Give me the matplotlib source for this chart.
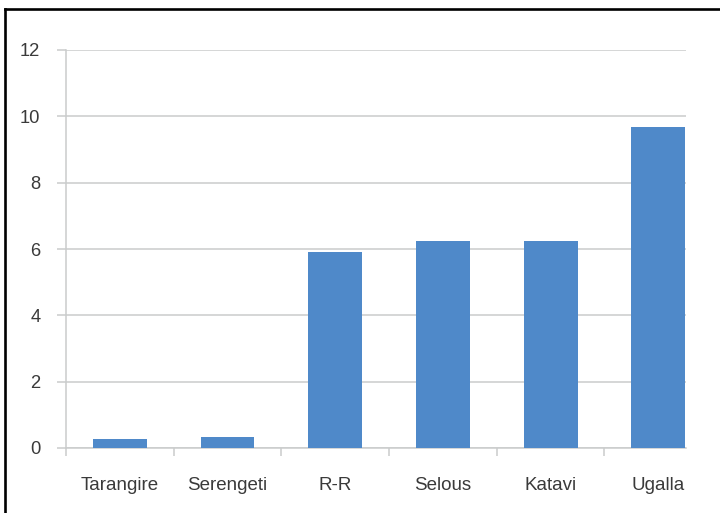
import matplotlib
matplotlib.use("Agg")
import matplotlib.pyplot as plt
from matplotlib.lines import Line2D

# Parks and their values
parks = ["Tarangire", "Serengeti", "R-R", "Selous", "Katavi", "Ugalla"]
values = [0.27, 0.33, 5.92, 6.25, 6.25, 9.68]
y_ticks = [0, 2, 4, 6, 8, 10, 12]

bar_color = "#4F89C9"
grid_color = "#CACCCC"
text_color = "#3A3A3A"

plt.rcParams["font.family"] = ["Liberation Sans", "DejaVu Sans"]

fig = plt.figure(figsize=(7.2, 5.13), dpi=100)
ax = fig.add_axes([66 / 720, 1 - 448 / 513, 620 / 720, 398 / 513])

x = list(range(len(parks)))
ax.bar(x, values, width=0.5, color=bar_color, zorder=3)

ax.set_yticks(y_ticks)
ax.set_yticklabels([str(t) for t in y_ticks])
ax.set_xticks(x)
ax.set_xticklabels(parks)
ax.set_xticks([i - 0.5 for i in range(len(parks) + 1)], minor=True)
ax.set_ylim(0, 12)
ax.set_xlim(-0.5, 5.257)

ax.grid(axis="y", color=grid_color, linewidth=1.1, zorder=0)
ax.grid(axis="x", visible=False)

for side in ("top", "right"):
    ax.spines[side].set_visible(False)
for side in ("left", "bottom"):
    ax.spines[side].set_color(grid_color)
    ax.spines[side].set_linewidth(1.1)

ax.tick_params(axis="y", length=6.5, width=1.1, color=grid_color,
               labelsize=13.2, labelcolor=text_color, pad=12)
ax.tick_params(axis="x", which="major", length=0, labelsize=13.5,
               labelcolor=text_color, pad=21)
ax.tick_params(axis="x", which="minor", length=6, width=1.1,
               color=grid_color, direction="out")

# frame around the chart (left and top edges)
fig.add_artist(Line2D([4.5 / 720, 4.5 / 720], [0, 1 - 9 / 513],
                      transform=fig.transFigure, color="black", linewidth=1.9))
fig.add_artist(Line2D([4.5 / 720, 1], [1 - 9 / 513, 1 - 9 / 513],
                      transform=fig.transFigure, color="black", linewidth=1.9))

fig.savefig("out.png", dpi=100)
